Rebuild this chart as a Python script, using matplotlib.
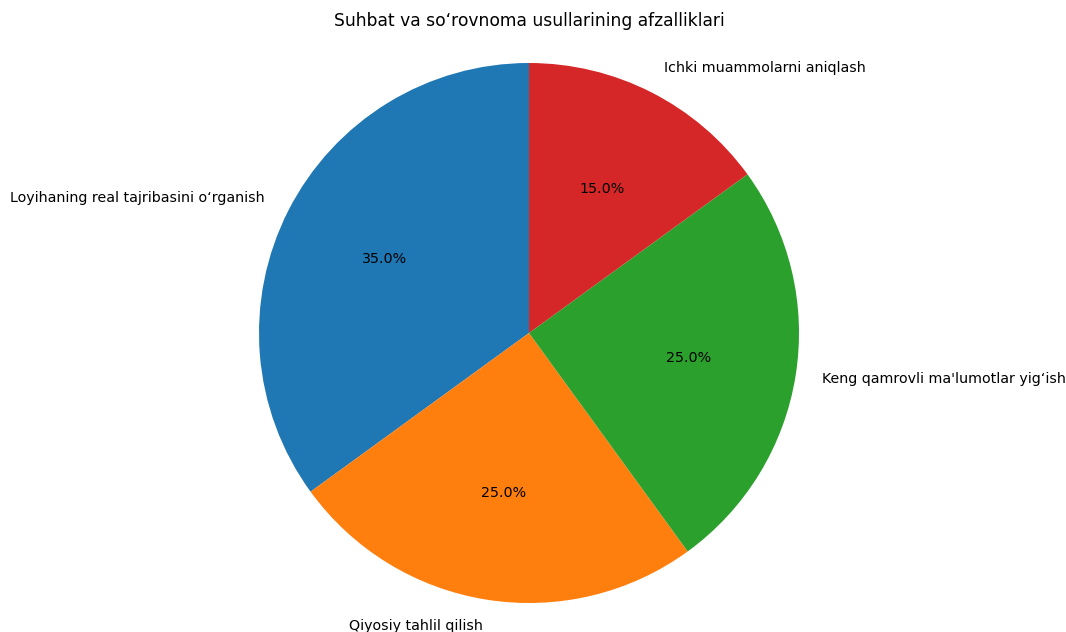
import matplotlib
matplotlib.use("Agg")
import matplotlib.pyplot as plt

labels = ["Loyihaning real tajribasini o\u02bbrganish", "Qiyosiy tahlil qilish",
          "Keng qamrovli ma'lumotlar yig\u02bbish", "Ichki muammolarni aniqlash"]
values = [35, 25, 25, 15]
colors = ["#1f77b4", "#ff7f0e", "#2ca02c", "#d62728"]

W, H = 1066, 632
cx, cy, R = 529, 333, 270  # pie centre and radius in pixels (from top-left)

fig = plt.figure(figsize=(W / 100, H / 100), dpi=100)
ax = fig.add_axes([0.0, 0.0, 1.0, 1.0])
ax.pie(values, labels=labels, colors=colors, autopct="%1.1f%%", startangle=90,
       textprops={"fontsize": 10.25})
ax.set_xlim(-cx / R, (W - cx) / R)
ax.set_ylim(-(H - cy) / R, cy / R)
ax.set_aspect("auto")
ax.axis("off")
fig.text(cx / W, 1 - 21.5 / H, "Suhbat va so\u02bbrovnoma usullarining afzalliklari",
         ha="center", va="center", fontsize=12.3)
fig.savefig("out.png", dpi=100)
